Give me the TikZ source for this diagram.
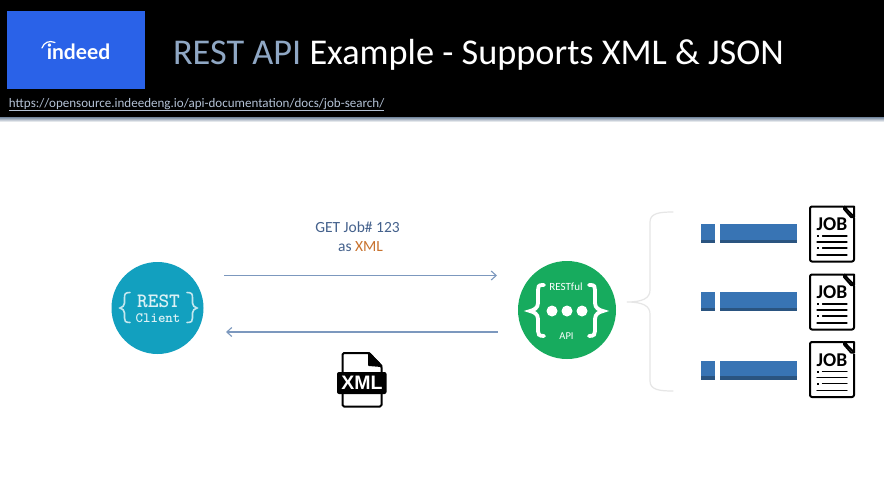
\documentclass[tikz,border=0pt]{standalone}
\usepackage{fontspec}
\setmainfont{Carlito}
\newfontfamily\logofam{Lato}
\newfontfamily\iconfam{Liberation Sans}
\usetikzlibrary{arrows.meta}
\definecolor{headblue}{HTML}{8FA7C4}
\definecolor{logoblue}{HTML}{2A62E8}
\definecolor{clientc}{HTML}{12A0BF}
\definecolor{apic}{HTML}{17AB5E}
\definecolor{arrowc}{HTML}{7C98BE}
\definecolor{labelc}{HTML}{44618C}
\definecolor{orangec}{HTML}{C8722E}
\definecolor{barc}{HTML}{3874B4}
\definecolor{bardark}{HTML}{2A5480}
\definecolor{bracec}{HTML}{E6E6E6}
\definecolor{linkc}{HTML}{B4C2D6}
\tikzset{
  every node/.style={inner sep=0pt,outer sep=0pt},
  flow/.style={draw=arrowc,line width=1.3pt,-{Straight Barb[length=5pt,width=9pt,line width=1.1pt]}},
  badge/.style={circle,minimum size=#1},
  bartile/.style={fill=barc},
  bardk/.style={fill=bardark},
  lbl/.style={font=\fontsize{15.5}{17}\selectfont,text=labelc,anchor=base},
  icon/.style={draw=black,line width=2pt,line join=round,fill=white,rounded corners=1.5pt},
  iconln/.style={draw=black,line width=1.3pt,line cap=round},
  clbrace/.style={draw=white!75!clientc,line width=1.6pt,line cap=round},
  apibrace/.style={draw=white,line width=3.8pt,line cap=round},
  jobdoc/.pic={
    \draw[icon,rounded corners=2pt] (-22,-27.5) rectangle (22,27.5);
    \fill[white] (11,-29) rectangle (24,-16);
    \draw[black,line width=2pt,line join=round] (12,-27.5) -- (22,-27.5) -- (22,-17) -- cycle;
    \draw[black,line width=2pt,line cap=round,line join=round] (12,-27.5) -- (12,-25) -- (19,-17) -- (22,-17);
    \node[font=\fontsize{19.5}{20}\selectfont\bfseries,text=black] (-jt) at (0,-9.5) {JOB};
    \draw[iconln] (-9.5,2) -- (15,2);
    \draw[iconln] (-15,8) -- (15,8);
    \draw[iconln] (-9.5,14) -- (15,14);
    \draw[iconln] (-15,21) -- (15,21);
    \fill[black] (-15.5,1) rectangle (-13.5,3);
    \fill[black] (-15.5,13) rectangle (-13.5,15);
  },
  rowbar/.pic={
    \fill[bartile] (-11,-9.5) rectangle (3,9.5);
    \fill[bardk] (-11,6) rectangle (3,9.5);
    \fill[bartile] (8.5,-9.5) rectangle (85,9.5);
    \fill[bardk] (8.5,6) rectangle (85,9.5);
  }
}
\begin{document}
\begin{tikzpicture}[x=1pt,y=-1pt]
\useasboundingbox (0,0) rectangle (884,491);
\fill[white] (0,0) rectangle (884,491);
% header
\fill[black] (0,0) rectangle (884,117);
\fill[top color=headblue!80!black,bottom color=white] (0,117) rectangle (884,122);
\fill[logoblue] (6.5,11) rectangle (145,89);
\node[font=\logofam\bfseries\fontsize{21}{21}\selectfont,text=white,anchor=base] (logo) at (78.5,59) {indeed};
\draw[white,line width=1.2pt,line cap=round] (42,48) .. controls (44,42.5) and (49,40) .. (55,42.5);
\node[font=\fontsize{36.3}{38}\selectfont,anchor=base west,text=white] (title) at (173,64)
  {\textcolor{headblue}{REST API} Example - Supports XML \& JSON};
\node[font=\fontsize{13.03}{15}\selectfont,anchor=base west,text=linkc] (link) at (9,107)
  {\underline{https://opensource.indeedeng.io/api-documentation/docs/job-search/}};
% client
\node[badge=92pt,fill=clientc] (client) at (157.5,308) {};
\node[font=\ttfamily\bfseries\fontsize{20.4}{20}\selectfont,text=white!85!clientc,anchor=base] (resttxt) at (158.5,307.5) {REST};
\node[font=\ttfamily\bfseries\fontsize{14.2}{15}\selectfont,text=white!85!clientc,anchor=base] (clienttxt) at (158,322) {Client};
\draw[clbrace] (130,292.5) .. controls (125,292.5) and (124.5,294) .. (124.5,298) -- (124.5,303) .. controls (124.5,306) and (122.5,307) .. (120,308)
  .. controls (122.5,309) and (124.5,310) .. (124.5,313) -- (124.5,318) .. controls (124.5,321) and (125,322.5) .. (130,322.5);
\draw[clbrace] (187,292.5) .. controls (192,292.5) and (192.5,294) .. (192.5,298) -- (192.5,303) .. controls (192.5,306) and (194.5,307) .. (197,308)
  .. controls (194.5,309) and (192.5,310) .. (192.5,313) -- (192.5,318) .. controls (192.5,321) and (192,322.5) .. (187,322.5);
% api
\node[badge=98pt,fill=apic] (api) at (567,310) {};
\node[font=\fontsize{11}{12}\selectfont,text=white,anchor=base] (restful) at (566,290) {RESTful};
\node[font=\fontsize{10.5}{12}\selectfont,text=white,anchor=base] (apitxt) at (566.5,339) {API};
\foreach \xx/\nm in {552/da,567/db,582/dc}{\node[circle,fill=white,minimum size=11pt] (\nm) at (\xx,311) {};}
\draw[apibrace] (544,285) -- (542,285) .. controls (538.5,285) and (538,287) .. (538,290) -- (538,303) .. controls (538,308) and (534,310) .. (530,311)
  .. controls (534,312) and (538,314) .. (538,319) -- (538,331) .. controls (538,334) and (538.5,336) .. (544,336);
\draw[apibrace] (589,285) -- (591,285) .. controls (594.5,285) and (595,287) .. (595,290) -- (595,303) .. controls (595,308) and (599,310) .. (603,311)
  .. controls (599,312) and (595,314) .. (595,319) -- (595,331) .. controls (595,334) and (594.5,336) .. (589,336);
% arrows
\coordinate (a1) at (224,275.5);
\coordinate (a2) at (497,275.5);
\coordinate (b1) at (497.5,332);
\coordinate (b2) at (226,332);
\draw[flow] (a1) -- (a2);
\draw[flow] (b1) -- (b2);
\node[lbl] (get) at (357.5,232.5) {GET Job\# 123};
\node[lbl] (asxml) at (360.5,251.5) {as \textcolor{orangec}{XML}};
% xml doc
\draw[icon] (342.5,353) -- (369,353) -- (381.5,366) -- (381.5,406.5) -- (342.5,406.5) -- cycle;
\draw[draw=black,line width=2pt,fill=black,line join=round] (369,353) -- (369,365) -- (381.5,366) -- cycle;
\fill[black,rounded corners=2pt] (337,372) rectangle (386.5,394);
\node[font=\iconfam\bfseries\fontsize{19.5}{20}\selectfont,text=white] (xmltxt) at (362,383) {XML};
% brace
\draw[bracec,line width=1.2pt,line cap=round] (673,212) .. controls (660,212) and (650,213) .. (650,222) -- (650,290)
  .. controls (650,298) and (643,302) .. (627,302) .. controls (643,302) and (650,306) .. (650,314) -- (650,381)
  .. controls (650,390) and (660,391) .. (673,391);
% rows
\pic at (711.5,233.5) {rowbar};
\pic at (711.5,301.5) {rowbar};
\pic at (711.5,370) {rowbar};
\pic (j1) at (832,234) {jobdoc};
\pic (j2) at (832,302) {jobdoc};
\pic (j3) at (832,369.5) {jobdoc};
\end{tikzpicture}
\end{document}
